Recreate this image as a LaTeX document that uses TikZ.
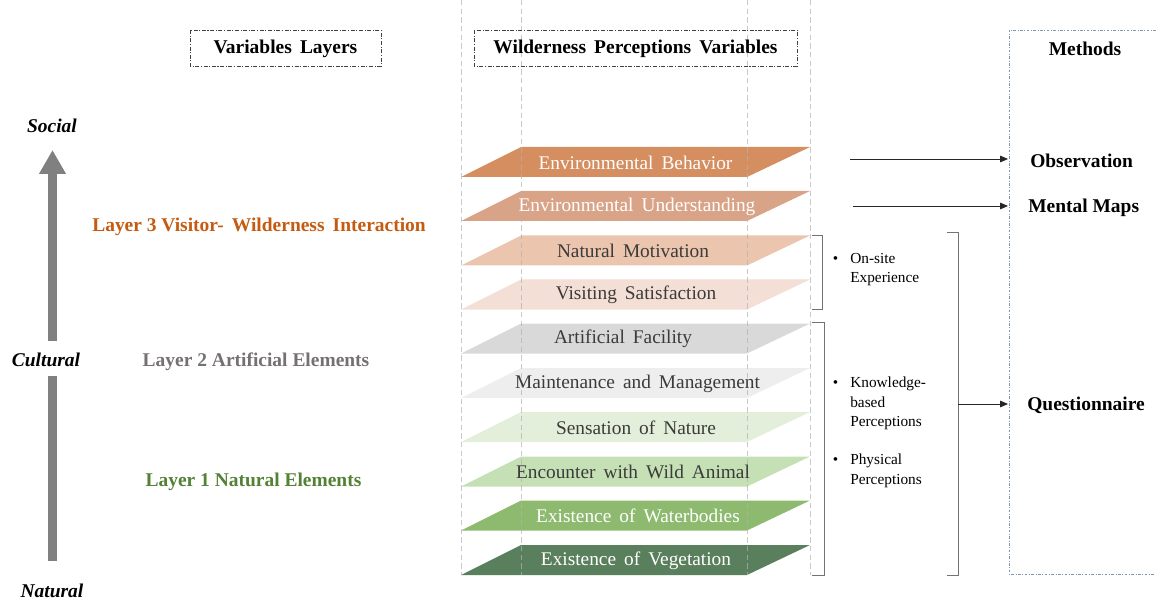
\documentclass[tikz,border=0pt]{standalone}
\usepackage{fontspec}
\setmainfont{Liberation Serif}
\usetikzlibrary{arrows.meta}

\definecolor{layerthree}{HTML}{C55A11}
\definecolor{layertwo}{HTML}{767171}
\definecolor{layerone}{HTML}{538135}
\definecolor{pbehav}{HTML}{D58E5F}
\definecolor{punder}{HTML}{D9A387}
\definecolor{pmotiv}{HTML}{EBC5AE}
\definecolor{psatis}{HTML}{F3DFD5}
\definecolor{pfacil}{HTML}{D9D9D9}
\definecolor{pmaint}{HTML}{EEEEEE}
\definecolor{psensa}{HTML}{E3EFDA}
\definecolor{pencou}{HTML}{C5E0B4}
\definecolor{pwater}{HTML}{8DBA6E}
\definecolor{pveget}{HTML}{5A7F5C}
\definecolor{methodline}{HTML}{8497B0}
\definecolor{darktext}{HTML}{3B3B3B}

\begin{document}
\begin{tikzpicture}[x=0.75pt,y=0.75pt,yscale=-1,xscale=1,
  platetext/.style={inner sep=0.75pt,font=\fontsize{14.5}{17}\selectfont},
  headtext/.style={inner sep=0.75pt,font=\bfseries\fontsize{14.6}{17}\selectfont},
  axistext/.style={inner sep=0.75pt,font=\bfseries\itshape\fontsize{14.6}{17}\selectfont},
  bullettext/.style={inner sep=0.75pt,align=left,font=\fontsize{11.5}{14.6}\selectfont},
  headbox/.style={draw=black!75,line width=0.5pt,dash pattern=on 3pt off 1.2pt on 0.8pt off 1.2pt},
  guide/.style={draw=black!30,line width=0.5pt,dash pattern=on 4pt off 2.5pt,opacity=0.7},
  bracket/.style={draw=black!55,line width=0.6pt},
  methodarrow/.style={draw=black!85,line width=0.6pt,-{Triangle[length=6pt,width=5pt]}}]
\useasboundingbox (0,0) rectangle (1156,602);

%Shape: Parallelogram 
\fill[pbehav] (461,177) -- (521,147) -- (810,147) -- (747,177) -- cycle ;
%Shape: Parallelogram 
\fill[punder] (461,221) -- (521,191) -- (810,191) -- (747,221) -- cycle ;
%Shape: Parallelogram 
\fill[pmotiv] (461,265.5) -- (521,235.5) -- (810,235.5) -- (747,265.5) -- cycle ;
%Shape: Parallelogram 
\fill[psatis] (461,309.5) -- (521,279.5) -- (810,279.5) -- (747,309.5) -- cycle ;
%Shape: Parallelogram 
\fill[pfacil] (461,353.5) -- (521,323.5) -- (810,323.5) -- (747,353.5) -- cycle ;
%Shape: Parallelogram 
\fill[pmaint] (461,398) -- (521,368) -- (810,368) -- (747,398) -- cycle ;
%Shape: Parallelogram 
\fill[psensa] (461,442) -- (521,412) -- (810,412) -- (747,442) -- cycle ;
%Shape: Parallelogram 
\fill[pencou] (461,486.5) -- (521,456.5) -- (810,456.5) -- (747,486.5) -- cycle ;
%Shape: Parallelogram 
\fill[pwater] (461,530.5) -- (521,500.5) -- (810,500.5) -- (747,530.5) -- cycle ;
%Shape: Parallelogram 
\fill[pveget] (461,575) -- (521,545) -- (810,545) -- (747,575) -- cycle ;

%Straight Lines 
\draw[guide] (461,0) -- (461,575) ;
\draw[guide] (521,0) -- (521,575) ;
\draw[guide] (747,0) -- (747,575) ;
\draw[guide] (810,0) -- (810,575) ;

% Text Node
\node[platetext,text=white] (behav) at (635.5,162.5) {Environmental\, Behavior};
% Text Node
\node[platetext,text=white] (under) at (637,206.5) {Environmental\, Understanding};
% Text Node
\node[platetext,text=darktext] (motiv) at (633,251) {Natural\, Motivation};
% Text Node
\node[platetext,text=darktext] (satis) at (636,295) {Visiting\, Satisfaction};
% Text Node
\node[platetext,text=darktext] (facil) at (623,339) {Artificial\, Facility};
% Text Node
\node[platetext,text=darktext] (maint) at (637.5,383.5) {Maintenance\, and\, Management};
% Text Node
\node[platetext,text=darktext] (sensa) at (636,427.5) {Sensation\, of\, Nature};
% Text Node
\node[platetext,text=darktext] (encou) at (633,472) {Encounter\, with\, Wild\, Animal};
% Text Node
\node[platetext,text=white] (water) at (638,516) {Existence\, of\, Waterbodies};
% Text Node
\node[platetext,text=white] (veget) at (636,560.5) {Existence\, of\, Vegetation};

%Shape: Rectangle 
\draw[headbox] (190,30) rectangle (381,66) ;
%Shape: Rectangle 
\draw[headbox] (474,30) rectangle (797,66) ;
%Shape: Rectangle 
\draw[draw=methodline,line width=0.6pt,dash pattern=on 2pt off 1.2pt on 0.6pt off 1.2pt] (1156,30) -- (1009,30) -- (1009,574) -- (1156,574) ;

% Text Node
\node[headtext] (varlayers) at (285.5,48.5) {Variables\, Layers};
% Text Node
\node[headtext] (wildvars) at (635.5,48.5) {Wilderness\, Perceptions\, Variables};
% Text Node
\node[headtext] (methods) at (1085,48.5) {Methods};

%Straight Lines (axis)
\draw[draw=black!50,line width=6.2pt,-{Triangle[length=18pt,width=19pt]}] (52.5,341) -- (52.5,150) ;
\draw[draw=black!50,line width=6.2pt] (52.5,376) -- (52.5,561) ;

% Text Node
\node[axistext] (social) at (52,125.5) {Social};
% Text Node
\node[axistext] (cultural) at (46,359.5) {Cultural};
% Text Node
\node[axistext] (natural) at (52,590.5) {Natural};

% Text Node
\node[headtext,text=layerthree] (layer3) at (259,226.5) {Layer 3 Visitor-\, Wilderness\, Interaction};
% Text Node
\node[headtext,text=layertwo] (layer2) at (256,361.5) {Layer 2 Artificial Elements};
% Text Node
\node[headtext,text=layerone] (layer1) at (253.5,481.5) {Layer 1 Natural Elements};

%Straight Lines (brackets)
\draw[bracket] (812,235) -- (822.5,235) -- (822.5,309) -- (812,309) ;
\draw[bracket] (812,322.5) -- (824.5,322.5) -- (824.5,575) -- (812,575) ;
\draw[bracket] (947,232) -- (958,232) -- (958,575) -- (947,575) ;

% Text Node
\node[bullettext,anchor=north west] (onsite) at (849,252) {\llap{\textbullet\hspace{9pt}}On-site\\Experience};
% Text Node
\node[bullettext,anchor=north west] (knowledge) at (849,376) {\llap{\textbullet\hspace{9pt}}Knowledge-\\based\\Perceptions};
% Text Node
\node[bullettext,anchor=north west] (physical) at (849,453) {\llap{\textbullet\hspace{9pt}}Physical\\Perceptions};

% Text Node
\node[headtext,anchor=west] (obs) at (1029,160.5) {Observation};
% Text Node
\node[headtext,anchor=west] (mmaps) at (1027,207.5) {Mental Maps};
% Text Node
\node[headtext,anchor=west] (quest) at (1026,405.5) {Questionnaire};

\coordinate (obstail) at (850,159) ;
\coordinate (obshead) at (1008,159) ;
\coordinate (mmtail) at (853,206) ;
\coordinate (mmhead) at (1008,206) ;
\coordinate (qtail) at (958,404) ;
\coordinate (qhead) at (1008,404) ;

%Straight Lines (arrows)
\draw[methodarrow] (obstail) -- (obshead) ;
\draw[methodarrow] (mmtail) -- (mmhead) ;
\draw[methodarrow] (qtail) -- (qhead) ;

\end{tikzpicture}
\end{document}
